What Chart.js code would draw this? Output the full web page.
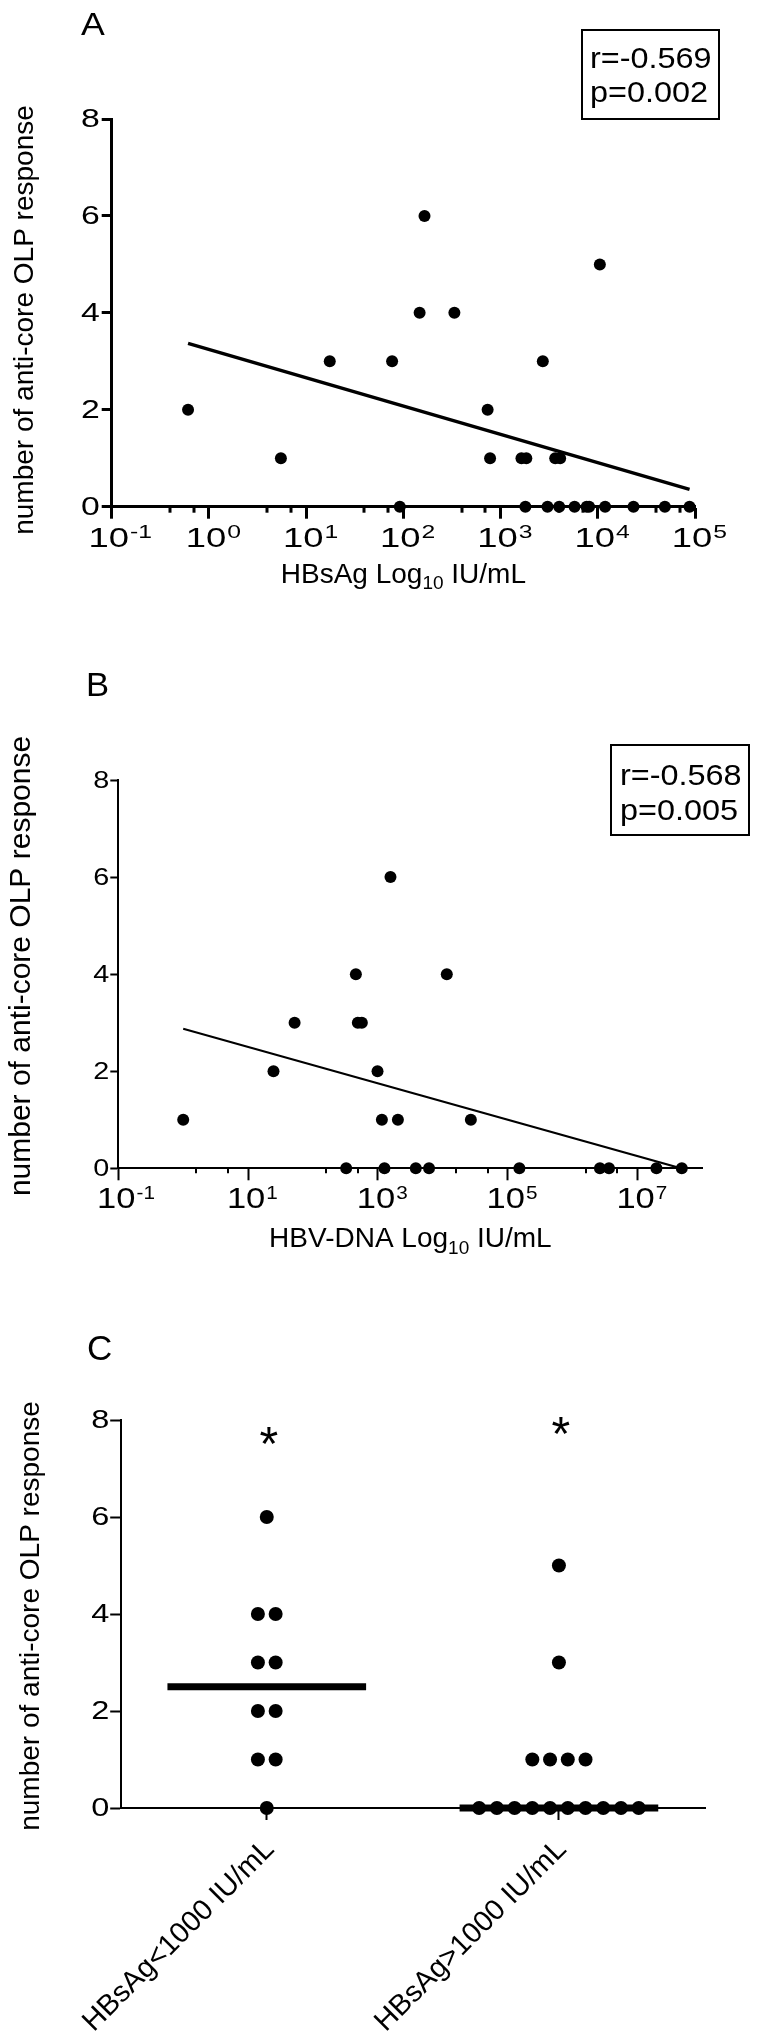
<!DOCTYPE html>
<html><head><meta charset="utf-8">
<script src="https://cdn.jsdelivr.net/npm/chart.js@4.4.1/dist/chart.umd.min.js"></script>
<style>
html,body{margin:0;padding:0;background:#fff;}
body{width:757px;height:2038px;position:relative;overflow:hidden;}
canvas{position:absolute;left:0;}
</style></head><body>
<canvas id="cA" width="757" height="600" style="top:0px"></canvas>
<canvas id="cB" width="757" height="680" style="top:600px"></canvas>
<canvas id="cC" width="757" height="758" style="top:1280px"></canvas>
<script>
// ---------- DATA ----------
const A_HBSAG = [0.61, 5.5, 17.5, 76.6, 92, 147, 165, 335, 736, 780, 1640, 1800, 1840, 2720, 3040, 3650, 4010, 4100, 5770, 7690, 8150, 10500, 11900, 23300, 49000, 87900];
const A_OLP   = [2, 1, 3, 3, 0, 4, 6, 4, 2, 1, 1, 0, 1, 3, 0, 1, 0, 1, 0, 0, 0, 5, 0, 0, 0, 0];
const A_X_EXP = [-1, 0, 1, 2, 3, 4, 5];
const A_STATS = ['r=-0.569', 'p=0.002'];

const B_DNA = [1.0, 24.6, 52, 324, 457, 490, 565, 985, 1150, 1260, 1560, 2030, 3830, 6130, 11500, 27000, 151000, 2.63e6, 3.63e6, 1.95e7, 4.8e7];
const B_OLP = [1, 2, 3, 0, 4, 3, 3, 2, 1, 0, 6, 1, 0, 0, 4, 1, 0, 0, 0, 0, 0];
const B_X_EXP = [-1, 1, 3, 5, 7];
const B_X_MAX_EXP = 8;
const B_STATS = ['r=-0.568', 'p=0.005'];

const Y_TICKS = [0, 2, 4, 6, 8];
const MINOR_FRAC = [0.6, 0.845];

const C_CATS = ['HBsAg<1000 IU/mL', 'HBsAg>1000 IU/mL'];
const C_LOW  = [6, 4, 4, 3, 3, 2, 2, 1, 1, 0];
const C_HIGH = [5, 3, 1, 1, 1, 1, 0, 0, 0, 0, 0, 0, 0, 0, 0, 0];
const C_STAR_Y = [7.75, 7.95];

const Y_TITLE = 'number of anti-core OLP response';

// ---------- helpers ----------
const FF = '"Liberation Sans", Arial, Helvetica, sans-serif';
function font(s, w) { return (w || 'normal') + ' ' + s + 'px ' + FF; }
function fitLine(xs, ys) {
  const lx = xs.map(Math.log10), n = lx.length;
  const mx = lx.reduce((a, b) => a + b, 0) / n, my = ys.reduce((a, b) => a + b, 0) / n;
  let sxx = 0, sxy = 0;
  lx.forEach((v, i) => { sxx += (v - mx) * (v - mx); sxy += (v - mx) * (ys[i] - my); });
  const b = sxy / sxx, a = my - b * mx;
  const lo = Math.min(...lx), hi = Math.max(...lx);
  return [{x: Math.pow(10, lo), y: a + b * lo}, {x: Math.pow(10, hi), y: a + b * hi}];
}
function minorTicks(exps, maxExp) {
  const out = [], step = exps[1] - exps[0];
  exps.forEach((e0, i) => {
    const e1 = i + 1 < exps.length ? exps[i + 1] : e0 + step;
    MINOR_FRAC.forEach(f => { const e = e0 + f * (e1 - e0); if (e <= maxExp) out.push(Math.pow(10, e)); });
  });
  return out;
}
function swarm(values, cat, step) {
  const counts = {}, seen = {};
  values.forEach(v => counts[v] = (counts[v] || 0) + 1);
  return values.map(v => { const k = counts[v], j = seen[v] || 0; seen[v] = j + 1; return {x: cat + (j - (k - 1) / 2) * step, y: v}; });
}
function median(a) {
  const s = [...a].sort((p, q) => p - q), n = s.length;
  return n % 2 ? s[(n - 1) / 2] : (s[n / 2 - 1] + s[n / 2]) / 2;
}
const pts = (xs, ys) => xs.map((x, i) => ({x: x, y: ys[i]}));

// draw text with a horizontal stretch factor
function sText(ctx, txt, x, y, sx, align, baseline) {
  ctx.save(); ctx.translate(x, y); ctx.scale(sx || 1, 1);
  ctx.textAlign = align || 'left'; ctx.textBaseline = baseline || 'alphabetic';
  ctx.fillText(txt, 0, 0); ctx.restore();
}

// ---------- decoration plugin ----------
const decor = {
  id: 'decor',
  afterDraw(chart, args, o) {
    const ctx = chart.ctx, X = chart.scales.x, Y = chart.scales.y, T = o.top;
    ctx.save();
    ctx.fillStyle = '#000'; ctx.strokeStyle = '#000';
    // minor ticks
    if (o.minor) {
      ctx.lineWidth = o.lw;
      o.minor.forEach(v => { const px = Math.round(X.getPixelForValue(v)); ctx.beginPath(); ctx.moveTo(px, Y.bottom); ctx.lineTo(px, Y.bottom + o.minorLen); ctx.stroke(); });
    }
    // y tick labels
    ctx.font = font(o.ySize);
    Y.ticks.forEach(t => sText(ctx, String(t.value), Y.right - o.yTickLen - o.yGap, Y.getPixelForValue(t.value) + 1, o.ySx, 'right', 'middle'));
    // x log labels 10^e
    if (o.xExp) {
      o.xExp.forEach(e => {
        const px = X.getPixelForValue(Math.pow(10, e));
        ctx.font = font(o.xSize);
        const w = ctx.measureText('10').width * o.xSx;
        sText(ctx, '10', px + o.xShift, o.xBase - T, o.xSx, 'center');
        ctx.font = font(o.supSize);
        sText(ctx, String(e), px + o.xShift + w / 2 + 1, o.xBase - T - o.supRise, o.xSx, 'left');
      });
    }
    // x title with subscript
    if (o.xTitle) {
      const t = o.xTitle;
      ctx.textAlign = 'left'; ctx.textBaseline = 'alphabetic';
      ctx.font = font(t.size); const w1 = ctx.measureText(t.pre).width, w3 = ctx.measureText(t.post).width;
      ctx.font = font(t.subSize); const w2 = ctx.measureText(t.sub).width;
      let x0 = (X.left + X.right) / 2 - (w1 + w2 + w3) / 2;
      ctx.font = font(t.size); ctx.fillText(t.pre, x0, t.base - T);
      ctx.font = font(t.subSize); ctx.fillText(t.sub, x0 + w1, t.base - T + t.subDrop);
      ctx.font = font(t.size); ctx.fillText(t.post, x0 + w1 + w2, t.base - T);
    }
    // category labels (rotated)
    if (o.cats) {
      o.cats.forEach((c, i) => {
        const px = X.getPixelForValue(i);
        ctx.save(); ctx.translate(px + o.catDx, o.catY - T); ctx.rotate(-Math.PI / 4);
        ctx.font = font(o.catSize); ctx.textAlign = 'right'; ctx.textBaseline = 'middle';
        ctx.fillText(c, 0, 0); ctx.restore();
      });
    }
    // significance stars
    if (o.stars) {
      o.stars.forEach((sy, i) => {
        const px = X.getPixelForValue(i), py = Y.getPixelForValue(sy);
        ctx.font = font(o.starSize);
        sText(ctx, '*', px + 2, py + 0.575 * o.starSize, 1, 'center', 'alphabetic');
      });
    }
    // y title
    const yt = o.yTitle;
    ctx.save(); ctx.translate(yt.x, yt.y - T); ctx.rotate(-Math.PI / 2);
    ctx.font = font(yt.size); ctx.textAlign = 'center'; ctx.textBaseline = 'middle';
    ctx.fillText(Y_TITLE, 0, 0); ctx.restore();
    // panel letter
    ctx.font = font(o.letter.size);
    sText(ctx, o.letter.text, o.letter.x, o.letter.base - T, o.letter.sx, 'left');
    // stats box
    if (o.box) {
      const b = o.box;
      ctx.lineWidth = 2; ctx.strokeRect(b.x, b.y - T, b.w, b.h);
      ctx.font = font(b.size);
      b.lines.forEach((l, i) => sText(ctx, l, b.tx, b.base[i] - T, b.sx, 'left'));
    }
    ctx.restore();
  }
};

function yScale(width, lw, tickLen) {
  return {
    min: 0, max: 8,
    afterBuildTicks: s => { s.ticks = Y_TICKS.map(v => ({value: v})); },
    ticks: {display: false},
    grid: {drawOnChartArea: false, tickLength: tickLen, tickColor: '#000', tickWidth: lw},
    border: {display: true, color: '#000', width: lw},
    afterFit: s => { s.width = width; }
  };
}
function baseOptions(padTop, padRight, scales, decorOpts) {
  return {
    responsive: false, animation: false, devicePixelRatio: 1, events: [],
    layout: {padding: {top: padTop, right: padRight, left: 0, bottom: 0}},
    plugins: {legend: {display: false}, tooltip: {enabled: false}, decor: decorOpts},
    scales: scales
  };
}

// ---------- Panel A ----------
new Chart(document.getElementById('cA'), {
  type: 'scatter',
  data: {datasets: [
    {type: 'line', data: fitLine(A_HBSAG, A_OLP), borderColor: '#000', borderWidth: 3.5, pointRadius: 0, showLine: true, clip: false},
    {data: pts(A_HBSAG, A_OLP), backgroundColor: '#000', borderWidth: 0, pointRadius: 6, clip: false}
  ]},
  options: baseOptions(119, 757 - 695, {
    x: {type: 'logarithmic', min: Math.pow(10, A_X_EXP[0]), max: Math.pow(10, A_X_EXP[A_X_EXP.length - 1]),
        afterBuildTicks: s => { s.ticks = A_X_EXP.map(e => ({value: Math.pow(10, e)})); },
        ticks: {display: false},
        grid: {drawOnChartArea: false, tickLength: 12, tickColor: '#000', tickWidth: 3},
        border: {display: true, color: '#000', width: 3},
        afterFit: s => { s.height = 600 - 506.7; s.paddingLeft = 0; s.paddingRight = 0; }},
    y: yScale(111.7, 3, 10)
  }, {
    top: 0, lw: 3, minor: minorTicks(A_X_EXP, A_X_EXP[A_X_EXP.length - 1]), minorLen: 6,
    ySize: 26, ySx: 1.3, yTickLen: 10, yGap: 2,
    xExp: A_X_EXP, xSize: 28, xSx: 1.3, supSize: 19, xBase: 546.7, supRise: 8.5, xShift: -3,
    xTitle: {pre: 'HBsAg Log', sub: '10', post: ' IU/mL', size: 28, subSize: 19, subDrop: 6, base: 583},
    yTitle: {x: 25, y: 320, size: 28},
    letter: {text: 'A', x: 81, base: 35, size: 31, sx: 1.15},
    box: {x: 582, y: 30, w: 137, h: 89, size: 30, sx: 1.08, tx: 590, base: [68, 102], lines: A_STATS}
  }),
  plugins: [decor]
});

// ---------- Panel B ----------
new Chart(document.getElementById('cB'), {
  type: 'scatter',
  data: {datasets: [
    {type: 'line', data: fitLine(B_DNA, B_OLP), borderColor: '#000', borderWidth: 2, pointRadius: 0, showLine: true, clip: 0},
    {data: pts(B_DNA, B_OLP), backgroundColor: '#000', borderWidth: 0, pointRadius: 6, clip: false}
  ]},
  options: baseOptions(180, 757 - 702.5, {
    x: {type: 'logarithmic', min: Math.pow(10, B_X_EXP[0]), max: Math.pow(10, B_X_MAX_EXP),
        afterBuildTicks: s => { s.ticks = B_X_EXP.map(e => ({value: Math.pow(10, e)})); },
        ticks: {display: false},
        grid: {drawOnChartArea: false, tickLength: 12, tickColor: '#000', tickWidth: 2},
        border: {display: true, color: '#000', width: 2},
        afterFit: s => { s.height = 680 - 568.3; s.paddingLeft = 0; s.paddingRight = 0; }},
    y: yScale(118.3, 2, 8)
  }, {
    top: 600, lw: 2, minor: minorTicks(B_X_EXP, B_X_MAX_EXP), minorLen: 5,
    ySize: 24, ySx: 1.2, yTickLen: 8, yGap: 1,
    xExp: B_X_EXP, xSize: 30, xSx: 1.15, supSize: 18, xBase: 1208.3, supRise: 9, xShift: -2,
    xTitle: {pre: 'HBV-DNA Log', sub: '10', post: ' IU/mL', size: 28, subSize: 19, subDrop: 7, base: 1247},
    yTitle: {x: 22, y: 966, size: 30},
    letter: {text: 'B', x: 86, base: 696, size: 33, sx: 1.05},
    box: {x: 611, y: 745, w: 138, h: 90, size: 30, sx: 1.08, tx: 620, base: [785, 820], lines: B_STATS}
  }),
  plugins: [decor]
});

// ---------- Panel C ----------
const C_STEP = 0.0607;
const C_HALF = 0.34;
const medLow = median(C_LOW), medHigh = median(C_HIGH);
new Chart(document.getElementById('cC'), {
  type: 'scatter',
  data: {datasets: [
    {type: 'line', data: [{x: 0 - C_HALF, y: medLow}, {x: 0 + C_HALF, y: medLow}], borderColor: '#000', borderWidth: 7, pointRadius: 0, showLine: true, clip: false, borderCapStyle: 'butt'},
    {type: 'line', data: [{x: 1 - C_HALF, y: medHigh}, {x: 1 + C_HALF, y: medHigh}], borderColor: '#000', borderWidth: 7, pointRadius: 0, showLine: true, clip: false, borderCapStyle: 'butt'},
    {data: swarm(C_LOW, 0, C_STEP), backgroundColor: '#000', borderWidth: 0, pointRadius: 7, clip: false},
    {data: swarm(C_HIGH, 1, C_STEP), backgroundColor: '#000', borderWidth: 0, pointRadius: 7, clip: false}
  ]},
  options: baseOptions(1420 - 1280, 757 - 705, {
    x: {type: 'linear', min: -0.5, max: C_CATS.length - 0.5,
        afterBuildTicks: s => { s.ticks = C_CATS.map((c, i) => ({value: i})); },
        ticks: {display: false},
        grid: {drawOnChartArea: false, tickLength: 12, tickColor: '#000', tickWidth: 2},
        border: {display: true, color: '#000', width: 2},
        afterFit: s => { s.height = 758 - (1808 - 1280); s.paddingLeft = 0; s.paddingRight = 0; }},
    y: yScale(120.7, 2, 10.5)
  }, {
    top: 1280, lw: 2,
    ySize: 26, ySx: 1.25, yTickLen: 10.5, yGap: 1,
    cats: C_CATS, catDx: 3, catY: 1845, catSize: 29,
    stars: C_STAR_Y, starSize: 48,
    yTitle: {x: 31, y: 1616, size: 28},
    letter: {text: 'C', x: 87, base: 1360, size: 35, sx: 1.0}
  }),
  plugins: [decor]
});
</script>
</body></html>
